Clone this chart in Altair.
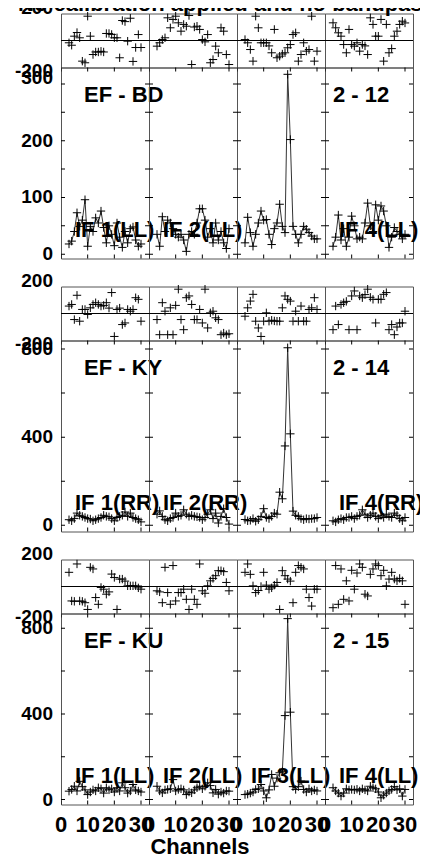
import altair as alt
import pandas as pd

TITLE = "No calibration applied and no bandpass applied"
X_TITLE = "Channels"
channels = list(range(3, 31))
baselines = ["EF - BD", "EF - KY", "EF - KU"]
timestamps = ["2 - 12", "2 - 14", "2 - 15"]
stokes = ["LL", "RR", "LL"]
if_shown = [[1, 2, 4], [1, 2, 4], [1, 2, 3, 4]]
x_tick_labels = [0, 10, 20, 30]
phase_labels = [-200, 200]
amp_labels = [[0, 100, 200, 300], [0, 400, 800], [0, 400, 800]]
amp_minor = [[0, 50, 100, 150, 200, 250, 300], [0, 200, 400, 600, 800], [0, 200, 400, 600, 800]]
amp_domains = [[-7.6, 329], [-28.6, 839], [-23.3, 869]]

# ---- row 1 : EF - BD (LL) ----
phase_r1_if1 = [-17, -35, 32, 59, 20, -153, -165, 180, 32, -104, -85, -85, -80, -85, 52, 52, 45, 20, 20, -128, 148, 140, -5, 165, -155, -52, 44, -52]
phase_r1_if2 = [-42, -17, 7, 20, 168, 94, 156, 180, 131, 69, 119, 106, 185, -178, 100, 106, 82, 7, -10, 44, -165, -141, -42, -91, 94, 69, -104, -178]
phase_r1_if3 = [7, -17, -67, -153, 180, 94, -17, -17, -17, -40, -91, 82, -128, -116, -100, -91, -54, -30, 44, 57, -153, -104, -17, -79, -67, 180, -153, -79]
phase_r1_if4 = [131, 94, 57, 32, -30, -91, 82, -30, -42, -17, -79, -30, -40, -104, 168, 119, 32, 32, 156, -153, 119, -91, -60, 32, 69, 119, 143, 130]
amp_r1_if1 = [18, 23, 40, 73, 49, 60, 96, 14, 49, 40, 64, 55, 76, 47, 20, 50, 35, 15, 55, 30, 12, 40, 20, 45, 48, 25, 14, 18]
amp_r1_if2 = [35, 14, 66, 40, 60, 55, 45, 35, 30, 35, 25, 5, 35, 40, 35, 55, 80, 80, 60, 30, 45, 20, 55, 25, 40, 20, 10, 45]
amp_r1_if3 = [20, 65, 38, 14, 35, 55, 76, 60, 61, 35, 17, 45, 55, 88, 49, 38, 317, 202, 49, 35, 20, 35, 49, 44, 38, 32, 27, 27]
amp_r1_if4 = [14, 30, 69, 25, 45, 14, 30, 67, 50, 27, 30, 27, 55, 90, 50, 40, 87, 60, 85, 76, 50, 12, 30, 47, 40, 35, 27, 35]

# ---- row 2 : EF - KY (RR) ----
phase_r2_if1 = [55, 67, -45, 135, -57, 30, 30, -7, 42, 67, 80, 67, 55, 60, 80, 40, 155, -170, 30, 40, -82, -70, 30, 17, 30, 117, 105, -57]
phase_r2_if2 = [-45, -157, 80, 17, -157, 42, -157, 60, 180, -45, -120, 117, 130, 67, -45, -45, 30, -70, 180, -107, 5, 17, -32, -45, -157, -145, -157, -150]
phase_r2_if3 = [-20, 42, 92, 142, -57, -107, -170, -57, 5, -57, -50, -55, -57, -57, 42, 130, 105, 92, -57, 17, -57, 55, -57, -57, 30, 42, 117, 30]
phase_r2_if4 = [-120, 55, -82, 67, 80, 90, -120, 130, 167, -120, 130, 117, 140, 180, 120, 105, -70, 105, 105, 142, 155, -120, -82, -157, -100, -70, -70, 17]
amp_r2_if1 = [25, 20, 30, 55, 45, 40, 35, 30, 28, 20, 25, 30, 35, 45, 40, 38, 30, 20, 35, 40, 45, 60, 40, 55, 35, 30, 25, 15]
amp_r2_if2 = [50, 65, 40, 25, 20, 30, 35, 55, 40, 45, 70, 50, 40, 45, 40, 38, 35, 25, 35, 50, 70, 30, 55, 10, 40, 75, 35, 5]
amp_r2_if3 = [26, 20, 22, 30, 18, 25, 40, 75, 35, 30, 40, 55, 50, 150, 120, 360, 806, 415, 64, 45, 40, 30, 25, 30, 28, 30, 30, 35]
amp_r2_if4 = [20, 15, 25, 30, 25, 35, 35, 40, 30, 40, 45, 70, 50, 35, 45, 55, 40, 30, 45, 35, 50, 40, 35, 55, 45, 30, 20, 35]

# ---- row 3 : EF - KU (LL) ----
phase_r3_if1 = [105, -107, -110, 167, -107, -110, -120, -170, 142, 130, -82, -132, -7, -20, -57, -40, 92, 67, -170, 55, 55, 40, 5, 5, 5, 5, -10, -20]
phase_r3_if2 = [-32, -40, -120, 142, -45, -132, 155, -107, -45, -45, -20, -95, -170, -20, -95, -132, 167, -32, -50, 5, 42, 60, 80, 117, 117, 110, 30, -32]
phase_r3_if3 = [105, 167, 90, 5, -45, -30, 0, 105, 10, -20, -10, 10, 30, -170, 117, 80, 55, 40, -120, 105, 155, 142, 130, -20, -82, -145, -20, -20]
phase_r3_if4 = [-157, 155, -132, 130, -95, 42, -107, 120, -20, 100, 167, 142, -57, -70, 90, 130, 167, 155, 80, 120, 5, 55, 105, 55, 42, 60, 42, -132]
amp_r3_if1 = [39, 47, 62, 40, 85, 60, 45, 23, 35, 45, 40, 55, 50, 30, 55, 45, 50, 35, 55, 40, 78, 55, 30, 40, 70, 45, 40, 35]
amp_r3_if2 = [62, 40, 31, 45, 47, 50, 93, 40, 47, 50, 45, 23, 35, 31, 45, 55, 62, 50, 62, 78, 65, 31, 47, 25, 35, 30, 40, 39]
amp_r3_if3 = [23, 25, 30, 35, 47, 50, 70, 40, 8, 45, 117, 62, 100, 125, 130, 392, 845, 408, 60, 47, 60, 86, 47, 35, 50, 40, 45, 40]
amp_r3_if4 = [55, 40, 30, 16, 30, 50, 45, 47, 45, 48, 40, 50, 45, 40, 62, 55, 50, 35, 8, 20, 30, 40, 47, 60, 45, 50, 16, 47]

phases = [
    [phase_r1_if1, phase_r1_if2, phase_r1_if3, phase_r1_if4],
    [phase_r2_if1, phase_r2_if2, phase_r2_if3, phase_r2_if4],
    [phase_r3_if1, phase_r3_if2, phase_r3_if3, phase_r3_if4],
]
amps = [
    [amp_r1_if1, amp_r1_if2, amp_r1_if3, amp_r1_if4],
    [amp_r2_if1, amp_r2_if2, amp_r2_if3, amp_r2_if4],
    [amp_r3_if1, amp_r3_if2, amp_r3_if3, amp_r3_if4],
]

FONT = "Liberation Sans"
CROSS = "M -1 0 L 1 0 M 0 -1 L 0 1"
W, HP, HA, GAP = 88, 54, 191, 28
XDOM = [0, 33]


def xscale():
    return alt.Scale(domain=XDOM, nice=False, zero=False)


def cross_points(df, x, y):
    return alt.Chart(df).mark_point(shape=CROSS, size=70, filled=False, color="black",
                                     strokeWidth=1, opacity=1).encode(x=x, y=y)


def ylabel_layer(values, yscale, baseline, dy=0):
    df = pd.DataFrame({"v": values, "s": [str(v) for v in values]})
    return alt.Chart(df).mark_text(
        align="right", baseline=baseline, dy=dy, font=FONT, fontSize=19, fontWeight="bold", color="black"
    ).encode(text="s:N", x=alt.value(-8), y=alt.Y("v:Q", scale=yscale, axis=None))


def xlabel_layer():
    df = pd.DataFrame({"v": x_tick_labels, "s": [str(v) for v in x_tick_labels]})
    return alt.Chart(df).mark_text(
        align="center", baseline="top", font=FONT, fontSize=22, fontWeight="bold", color="black"
    ).encode(text="s:N", x=alt.X("v:Q", scale=xscale(), axis=None), y=alt.value(HA + 10))


def phase_panel(vals, col):
    df = pd.DataFrame({"Channel": channels, "Phase": vals})
    yscale = alt.Scale(domain=[-200, 200], nice=False, zero=False)
    x = alt.X("Channel:Q", scale=xscale(), axis=None)
    y = alt.Y("Phase:Q", scale=yscale, axis=None)
    zero = alt.Chart(pd.DataFrame({"z": [0]})).mark_rule(color="black", strokeWidth=1).encode(
        y=alt.Y("z:Q", scale=yscale, axis=None))
    layers = [zero, cross_points(df, x, y)]
    if col == 0:
        layers.append(ylabel_layer([phase_labels[1]], yscale, "alphabetic"))
        layers.append(ylabel_layer([phase_labels[0]], yscale, "middle", dy=3))
    return alt.layer(*layers).properties(width=W, height=HP)


def text_label(text, px, py, size=22, align="left", baseline="middle"):
    return alt.Chart(pd.DataFrame({"t": [text]})).mark_text(
        align=align, baseline=baseline, font=FONT, fontSize=size, fontWeight="bold", color="black"
    ).encode(text="t:N", x=alt.value(px), y=alt.value(py))


def amp_panel(vals, row, col, bottom):
    df = pd.DataFrame({"Channel": channels, "Amplitude": vals})
    dom = amp_domains[row]
    yscale = alt.Scale(domain=dom, nice=False, zero=False)
    x = alt.X("Channel:Q", scale=xscale(), axis=None)
    y = alt.Y("Amplitude:Q", scale=yscale, axis=None)
    line = alt.Chart(df).mark_line(color="#333333", strokeWidth=1).encode(x=x, y=y)
    pts = cross_points(df, x, y)

    ticks_y = amp_minor[row]
    ytdf = pd.DataFrame({"edge": [XDOM[0]] * len(ticks_y) + [XDOM[1]] * len(ticks_y),
                         "t": ticks_y + ticks_y})
    xtdf = pd.DataFrame({"t": x_tick_labels + x_tick_labels,
                         "edge": [dom[0]] * len(x_tick_labels) + [dom[1]] * len(x_tick_labels)})
    tick_kw = dict(size=8, thickness=1, color="black", opacity=1, clip=True)
    yt = alt.Chart(ytdf).mark_tick(orient="horizontal", **tick_kw).encode(
        x=alt.X("edge:Q", scale=xscale(), axis=None), y=alt.Y("t:Q", scale=yscale, axis=None))
    xt = alt.Chart(xtdf).mark_tick(orient="vertical", **tick_kw).encode(
        x=alt.X("t:Q", scale=xscale(), axis=None), y=alt.Y("edge:Q", scale=yscale, axis=None))

    layers = [line, pts, yt, xt]
    if col == 0:
        labs = amp_labels[row]
        if row == 0:
            layers.append(ylabel_layer(labs[:-1], yscale, "middle"))
            layers.append(ylabel_layer(labs[-1:], yscale, "alphabetic"))
        else:
            layers.append(ylabel_layer(labs, yscale, "middle"))
        layers.append(text_label(baselines[row], 23, 27))
    if col == 3:
        layers.append(text_label(timestamps[row], 8, 27))
    if (col + 1) in if_shown[row]:
        layers.append(text_label(f"IF {col + 1}({stokes[row]})", 14, HA - 29))
    if bottom:
        layers.append(xlabel_layer())
        if col == 1:
            layers.append(text_label(X_TITLE, 51, HA + 32, align="center", baseline="top"))
    return alt.layer(*layers).properties(width=W, height=HA)


def spacer():
    df = pd.DataFrame({"a": [0]})
    return alt.Chart(df).mark_point(opacity=0).encode(
        x=alt.X("a:Q", axis=None), y=alt.Y("a:Q", axis=None)
    ).properties(width=W, height=GAP, view=alt.ViewBackground(strokeOpacity=0))


panels = []
for r in range(3):
    panels += [phase_panel(phases[r][c], c) for c in range(4)]
    panels += [amp_panel(amps[r][c], r, c, r == 2) for c in range(4)]
    if r < 2:
        panels += [spacer() for _ in range(4)]

chart = alt.concat(*panels, columns=4, spacing=0, bounds="flush").properties(
    title=alt.TitleParams(TITLE, anchor="start", frame="group", dx=-43, dy=22.5, offset=-12,
                          font=FONT, fontSize=22, fontWeight="bold", color="black",
                          baseline="alphabetic"),
    padding={"left": 6, "top": -15.5, "right": -98, "bottom": 0},
).configure_view(stroke="#555555", strokeWidth=1)

chart.save("out.html", embed_options={"renderer": "svg", "actions": False})
